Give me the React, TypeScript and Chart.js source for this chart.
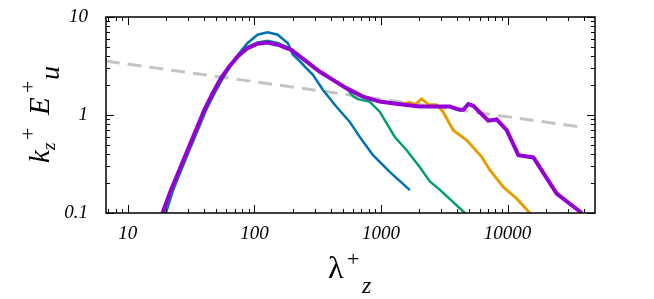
import React, { useEffect, useRef } from "react";
import { Chart, registerables } from "chart.js";

Chart.register(...registerables);

// λ+z values and k_z E_u values
const blueX = [20, 22.8, 26.4, 30.7, 35.7, 41.6, 48.5, 56.5, 65, 74, 88.5, 106, 127, 153, 184, 201, 230, 257, 290, 348, 443, 565, 678, 865, 1172, 1690];
const blueY = [0.1, 0.171, 0.273, 0.438, 0.7, 1.125, 1.67, 2.38, 3.2, 4.1, 5.43, 6.6, 6.97, 6.6, 5.4, 4.15, 3.5, 3.01, 2.57, 1.8, 1.22, 0.855, 0.6, 0.389, 0.263, 0.171];

const greenX = [19.3, 22.4, 26, 30.3, 35.2, 41, 47.7, 55.5, 64.5, 75, 89, 106, 127, 153, 195, 257, 327, 417, 532, 600, 658, 813, 977, 1282, 1590, 2020, 2430, 2920, 4600];
const greenY = [0.1, 0.171, 0.273, 0.438, 0.7, 1.125, 1.67, 2.38, 3.15, 4.0, 4.95, 5.5, 5.72, 5.45, 4.7, 3.55, 2.8, 2.3, 1.9, 1.55, 1.45, 1.37, 1.08, 0.6, 0.44, 0.295, 0.21, 0.172, 0.1];

const orangeX = [18.8, 21.9, 25.5, 29.7, 34.5, 40.2, 46.8, 54.5, 63.4, 73.8, 88.5, 106, 127, 153, 195, 257, 327, 417, 532, 720, 977, 1320, 1406, 1690, 1850, 2090, 2400, 2740, 3090, 3720, 4740, 6240, 7250, 9250, 11800, 15000];
const orangeY = [0.1, 0.171, 0.273, 0.438, 0.7, 1.125, 1.67, 2.38, 3.13, 3.96, 4.82, 5.34, 5.5, 5.21, 4.63, 3.52, 2.78, 2.28, 1.88, 1.54, 1.37, 1.3, 1.28, 1.35, 1.27, 1.46, 1.27, 1.27, 1.08, 0.7, 0.555, 0.374, 0.273, 0.184, 0.14, 0.1];

const purpleX = [18.8, 21.9, 25.5, 29.7, 34.5, 40.2, 46.8, 54.5, 63.4, 73.8, 88.5, 106, 127, 153, 195, 257, 327, 417, 532, 720, 977, 1320, 1790, 2020, 2750, 3500, 4200, 4470, 4890, 5350, 7030, 8190, 9830, 12170, 15970, 24400, 38600];
const purpleY = [0.1, 0.171, 0.273, 0.438, 0.7, 1.125, 1.67, 2.38, 3.13, 3.96, 4.82, 5.34, 5.5, 5.21, 4.63, 3.52, 2.78, 2.28, 1.88, 1.54, 1.37, 1.3, 1.24, 1.22, 1.22, 1.22, 1.13, 1.13, 1.29, 1.24, 0.875, 0.9, 0.7, 0.389, 0.369, 0.158, 0.1];

const refX = [6.7, 36600];
const refY = [3.55, 0.76];

const xMin = 6.73;
const xMax = 49000;
const yMin = 0.1;
const yMax = 10;

const toPts = (xs: number[], ys: number[]) => xs.map((x, i) => ({ x, y: ys[i] }));

const isDecade = (v: number) => Math.abs(Math.log10(v) - Math.round(Math.log10(v))) < 1e-9;
const decadeLabel = (v: number) => (isDecade(v) ? String(Math.pow(10, Math.round(Math.log10(v)))) : "");

const frameTicks = {
  id: "frameTicks",
  afterDatasetsDraw(chart: any) {
    const { ctx, chartArea: a, scales } = chart;
    ctx.save();
    ctx.strokeStyle = "#000";
    ctx.lineWidth = 1;
    const draw = (scale: any, horizontal: boolean) => {
      const lo = scale.min, hi = scale.max;
      for (let e = Math.floor(Math.log10(lo)); e <= Math.ceil(Math.log10(hi)); e++) {
        for (let m = 1; m < 10; m++) {
          const v = m * Math.pow(10, e);
          if (v < lo * (1 - 1e-9) || v > hi * (1 + 1e-9)) continue;
          const p = Math.round(scale.getPixelForValue(v)) + 0.5;
          const len = m === 1 ? 8 : 4;
          ctx.beginPath();
          if (horizontal) {
            ctx.moveTo(p, a.bottom); ctx.lineTo(p, a.bottom - len);
            ctx.moveTo(p, a.top); ctx.lineTo(p, a.top + len);
          } else {
            ctx.moveTo(a.left, p); ctx.lineTo(a.left + len, p);
            ctx.moveTo(a.right, p); ctx.lineTo(a.right - len, p);
          }
          ctx.stroke();
        }
      }
    };
    draw(scales.x, true);
    draw(scales.y, false);
    ctx.lineWidth = 1.5;
    ctx.strokeRect(a.left, a.top, a.right - a.left, a.bottom - a.top);
    ctx.restore();
  },
  afterDraw(chart: any) {
    const { ctx } = chart;
    ctx.save();
    ctx.fillStyle = "#000";
    ctx.textBaseline = "alphabetic";
    ctx.textAlign = "left";
    // x title
    ctx.font = "32px 'Liberation Serif'";
    ctx.fillText("λ", 328, 278);
    ctx.font = "22px 'Liberation Serif'";
    ctx.fillText("+", 347, 266);
    ctx.font = "italic 24px 'Liberation Serif'";
    ctx.fillText("z", 362, 293);
    // y title
    ctx.translate(49, 163);
    ctx.rotate(-Math.PI / 2);
    ctx.font = "italic 29px 'Liberation Serif'";
    ctx.fillText("k", 0, 0);
    ctx.font = "italic 19px 'Liberation Serif'";
    ctx.fillText("z", 13, 6);
    ctx.font = "22px 'Liberation Serif'";
    ctx.fillText("+", 23, -14);
    ctx.font = "italic 29px 'Liberation Serif'";
    ctx.fillText("E", 48, 0);
    ctx.font = "22px 'Liberation Serif'";
    ctx.fillText("+", 70, -14);
    ctx.font = "italic 28px 'Liberation Serif'";
    ctx.fillText("u", 83, 10);
    ctx.restore();
  },
};

export default function App() {
  const ref = useRef<HTMLCanvasElement | null>(null);
  useEffect(() => {
    document.body.style.margin = "0";
    const canvas = ref.current!;
    const tickFont = { family: "'Liberation Serif'", size: 19, style: "italic" as const };
    const chart = new Chart(canvas, {
      type: "line",
      data: {
        datasets: [
          { data: toPts(purpleX, purpleY), borderColor: "#9400D3", borderWidth: 4 },
          { data: toPts(orangeX, orangeY), borderColor: "#E69F00", borderWidth: 3 },
          { data: toPts(greenX, greenY), borderColor: "#009E73", borderWidth: 2.5 },
          { data: toPts(blueX, blueY), borderColor: "#0072B2", borderWidth: 2.5 },
          { data: toPts(refX, refY), borderColor: "#c4c4c4", borderWidth: 3, borderDash: [14, 8] },
        ].map((d) => ({ ...d, pointRadius: 0, fill: false, tension: 0 })),
      },
      options: {
        responsive: false,
        animation: false,
        events: [],
        layout: { padding: { top: 17, right: 59, left: 0, bottom: 0 } },
        plugins: { legend: { display: false }, tooltip: { enabled: false } },
        scales: {
          x: {
            type: "logarithmic",
            min: xMin,
            max: xMax,
            grid: { display: false, drawTicks: false },
            border: { display: false },
            ticks: {
              autoSkip: false,
              maxRotation: 0,
              padding: 10,
              color: "#000",
              font: tickFont,
              callback: (v: any) => decadeLabel(Number(v)),
            },
            afterFit: (s: any) => { s.height = 86; s.paddingLeft = 0; s.paddingRight = 0; },
          },
          y: {
            type: "logarithmic",
            min: yMin,
            max: yMax,
            grid: { display: false, drawTicks: false },
            border: { display: false },
            ticks: {
              autoSkip: false,
              padding: 18,
              color: "#000",
              font: tickFont,
              callback: (v: any) => decadeLabel(Number(v)),
            },
            afterFit: (s: any) => { s.width = 106; s.paddingTop = 0; s.paddingBottom = 0; },
          },
        },
      },
      plugins: [frameTicks],
    });
    return () => chart.destroy();
  }, []);
  return (
    <div style={{ width: 654, height: 299, position: "relative" }}>
      <canvas ref={ref} width={654} height={299} style={{ display: "block" }} />
    </div>
  );
}
